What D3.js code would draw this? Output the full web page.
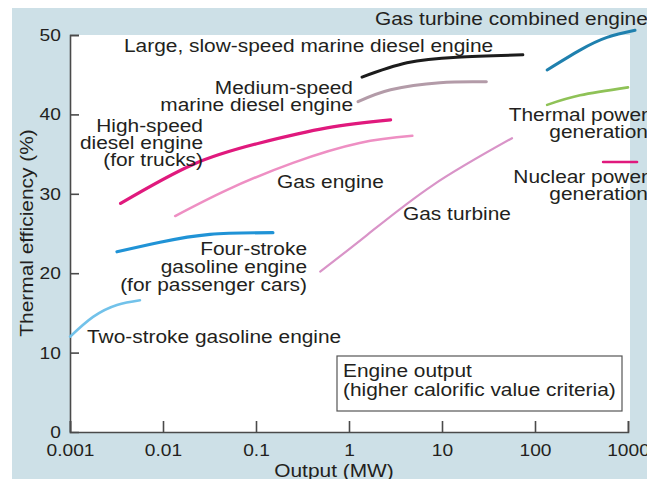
<!DOCTYPE html>
<meta charset="utf-8" />
<script src="https://d3js.org/d3.v7.min.js"></script>
<style>
  body { margin: 0; background: #fff; }
  text { font-family: "Liberation Sans", Arial, Helvetica, sans-serif; fill: #231f20; }
</style>
<body>
<div id="chart"></div>
<script>
// output (MW) and thermal efficiency (%)
const highSpeedX = [0.0035, 0.021, 0.11, 0.58, 2.8];
const highSpeedY = [28.8, 33.7, 36.4, 38.3, 39.3];
const gasEngineX = [0.0135, 0.049, 0.25, 1.3, 4.8];
const gasEngineY = [27.2, 30.5, 33.9, 36.4, 37.3];
const slowMarineX = [1.38, 4.2, 14.5, 74];
const slowMarineY = [44.7, 46.5, 47.2, 47.5];
const medMarineX = [1.25, 2.8, 9.5, 30];
const medMarineY = [41.6, 43.1, 44.0, 44.1];
const combinedX = [135, 305, 595, 1190];
const combinedY = [45.6, 48.1, 49.7, 50.6];
const thermalX = [135, 305, 1000];
const thermalY = [41.2, 42.4, 43.4];
const nuclearX = [540, 1250];
const nuclearY = [34.0, 34.0];
const fourStrokeX = [0.0032, 0.0093, 0.032, 0.152];
const fourStrokeY = [22.7, 23.9, 24.9, 25.1];
const twoStrokeX = [0.001, 0.00177, 0.0032, 0.00566];
const twoStrokeY = [12.0, 14.5, 16.0, 16.6];
const gasTurbineX = [0.49, 1.56, 8.0, 56.6];
const gasTurbineY = [20.2, 24.8, 31.1, 37.0];

const xTicks = [0.001, 0.01, 0.1, 1, 10, 100, 1000];
const xTickLabels = ["0.001", "0.01", "0.1", "1", "10", "100", "1000"];
const yTicks = [0, 10, 20, 30, 40, 50];

var margin = { top: 35, right: 19, bottom: 47, left: 70 },
  width = 647 - margin.left - margin.right,
  height = 479 - margin.top - margin.bottom;

var W = 647, H = 479;
var svg = d3.select("#chart").append("svg").attr("width", W).attr("height", H);

// light blue panel and white plot area
svg.append("rect").attr("x", 12).attr("y", 8).attr("width", W - 12).attr("height", H - 8)
  .attr("fill", "#cde0e7");
svg.append("rect").attr("x", margin.left).attr("y", margin.top)
  .attr("width", 560).attr("height", height).attr("fill", "#fff");

var g = svg.append("g").attr("transform", "translate(" + margin.left + "," + margin.top + ")");

var x = d3.scaleLog().domain([0.001, 1000]).range([0, 558]);
var y = d3.scaleLinear().domain([0, 50]).range([height, 0]);

var stretch = "scale(1.13,1)";

// axes
var xAxis = g.append("g").attr("transform", "translate(0," + height + ")")
  .call(d3.axisBottom(x).tickValues(xTicks)
    .tickFormat(function (d, i) { return xTickLabels[i]; })
    .tickSizeInner(-11).tickSizeOuter(-11).tickPadding(12));
var yAxis = g.append("g")
  .call(d3.axisLeft(y).tickValues(yTicks).tickSizeInner(-9).tickSizeOuter(-9).tickPadding(8));

[xAxis, yAxis].forEach(function (a) {
  a.select(".domain").attr("stroke", "#4a4a4a").attr("stroke-width", 1.6);
  a.selectAll(".tick line").attr("stroke", "#4a4a4a").attr("stroke-width", 1.6);
  a.selectAll(".tick text").attr("fill", "#231f20")
    .style("font-size", "17px").attr("transform", stretch);
});
yAxis.selectAll(".tick").filter(function (d) { return d === 0; }).select("line").remove();

// curves
var series = [
  { xs: twoStrokeX, ys: twoStrokeY, color: "#72c2ea", w: 2.5 },
  { xs: fourStrokeX, ys: fourStrokeY, color: "#2093d6", w: 3.2 },
  { xs: gasEngineX, ys: gasEngineY, color: "#ee8fc3", w: 2.5 },
  { xs: highSpeedX, ys: highSpeedY, color: "#e0197d", w: 3.2 },
  { xs: gasTurbineX, ys: gasTurbineY, color: "#d994c8", w: 2.2 },
  { xs: medMarineX, ys: medMarineY, color: "#b39ba8", w: 3 },
  { xs: slowMarineX, ys: slowMarineY, color: "#1c1c1c", w: 3 },
  { xs: combinedX, ys: combinedY, color: "#1f80ae", w: 3 },
  { xs: thermalX, ys: thermalY, color: "#8fc257", w: 2.6 },
  { xs: nuclearX, ys: nuclearY, color: "#e0197d", w: 2.6 },
];

var line = d3.line()
  .x(function (d) { return x(d[0]); })
  .y(function (d) { return y(d[1]); })
  .curve(d3.curveNatural);

series.forEach(function (s) {
  g.append("path")
    .datum(d3.zip(s.xs, s.ys))
    .attr("fill", "none")
    .attr("stroke", s.color)
    .attr("stroke-width", s.w)
    .attr("stroke-linecap", "round")
    .attr("d", line);
});

// labels (page coordinates)
function label(px, py, lines, anchor, lh, size) {
  var t = svg.append("g")
    .attr("transform", "translate(" + px + "," + py + ") " + stretch)
    .append("text")
    .attr("text-anchor", anchor || "start")
    .style("font-size", (size || 18.5) + "px");
  lines.forEach(function (s, i) {
    t.append("tspan").attr("x", 0).attr("y", i * (lh || 17)).text(s);
  });
}

label(375, 25, ["Gas turbine combined engine"]);
label(124, 52, ["Large, slow-speed marine diesel engine"]);
label(353, 94, ["Medium-speed", "marine diesel engine"], "end");
label(203, 132, ["High-speed", "diesel engine", "(for trucks)"], "end");
label(277, 188, ["Gas engine"]);
label(403, 220, ["Gas turbine"]);
label(648, 121, ["Thermal power", "generation"], "end");
label(648, 183, ["Nuclear power", "generation"], "end");
label(307, 255, ["Four-stroke", "gasoline engine", "(for passenger cars)"], "end", 18);
label(87, 343, ["Two-stroke gasoline engine"]);

// note box
svg.append("rect").attr("x", 337).attr("y", 356).attr("width", 285).attr("height", 55)
  .attr("fill", "#fff").attr("stroke", "#555").attr("stroke-width", 1.2);
label(343, 377, ["Engine output", "(higher calorific value criteria)"], "start", 19);

// axis titles
label(334, 477, ["Output (MW)"], "middle");
svg.append("g")
  .attr("transform", "translate(33,233) rotate(-90) " + stretch)
  .append("text").attr("text-anchor", "middle").style("font-size", "18.5px")
  .text("Thermal efficiency (%)");
</script>
</body>
